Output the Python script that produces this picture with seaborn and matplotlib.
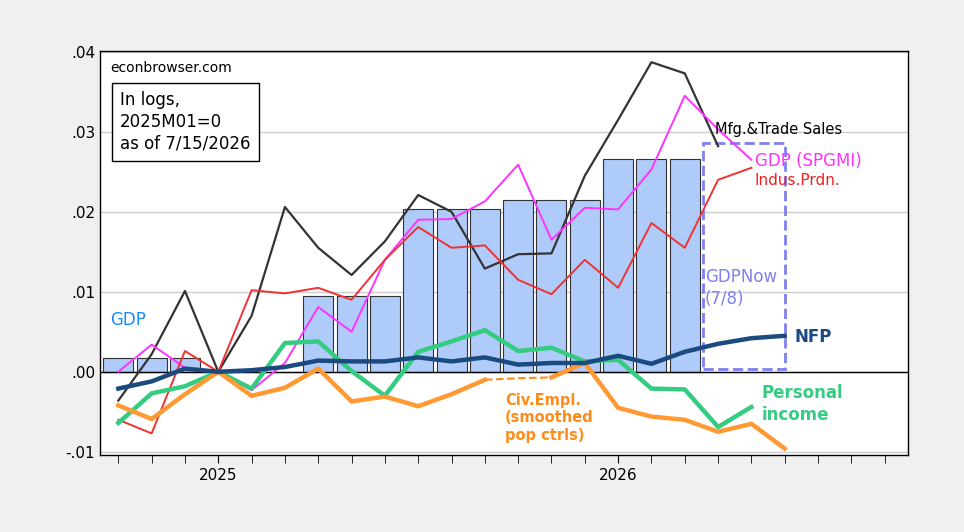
import matplotlib
matplotlib.use("Agg")
import matplotlib.pyplot as plt
import seaborn as sns
import numpy as np
import pandas as pd
from matplotlib.patches import Rectangle

# months from 2024M10, index 0..
months = pd.period_range("2024-10", "2026-06", freq="M")

gdp_bars = [0.00175, 0.00175, 0.00175, 0, 0, 0, 0.0095, 0.0095, 0.0095,
            0.0203, 0.0203, 0.0203, 0.0215, 0.0215, 0.0215, 0.0266, 0.0266, 0.0266]
gdpnow = 0.0286

mfg_sales = [-0.0036, 0.0022, 0.0101, 0.0, 0.0070, 0.0206, 0.0155, 0.0121, 0.0163,
             0.0221, 0.0200, 0.0129, 0.0147, 0.0148, 0.0245, 0.0315, 0.0387, 0.0373, 0.0282]
gdp_spgmi = [0.0, 0.0034, 0.0005, 0.0, -0.0023, 0.0011, 0.0081, 0.0050, 0.0140,
             0.0190, 0.0191, 0.0213, 0.0259, 0.0165, 0.0205, 0.0203, 0.0253, 0.0345, 0.0303, 0.0265]
indus_prdn = [-0.0060, -0.0077, 0.0026, 0.0, 0.0102, 0.0098, 0.0105, 0.0090, 0.0140,
              0.0181, 0.0155, 0.0158, 0.0115, 0.0097, 0.0140, 0.0105, 0.0186, 0.0155, 0.0240, 0.0255]
pers_income = [-0.0064, -0.0027, -0.0018, 0.0, -0.0021, 0.0036, 0.0038, 0.0001, -0.0030,
               0.0025, 0.0038, 0.0052, 0.0026, 0.0030, 0.0013, 0.0015, -0.0021, -0.0022, -0.0069, -0.0044]
nfp = [-0.0021, -0.0012, 0.0004, 0.0, 0.0002, 0.0006, 0.0014, 0.0013, 0.0013, 0.0018, 0.0013,
       0.0018, 0.0009, 0.0011, 0.0011, 0.0020, 0.0010, 0.0025, 0.0035, 0.0042, 0.0045]
civ_empl = [-0.0042, -0.0059, -0.0028, 0.0, -0.0030, -0.0020, 0.0004, -0.0037, -0.0031,
            -0.0043, -0.0028, -0.0010, np.nan, np.nan, 0.0011, -0.0045, -0.0056, -0.0060,
            -0.0075, -0.0065, -0.0096]
civ_gap = [-0.0010, -0.0008, -0.0007]  # Sep-Nov 2025, dashed

fig = plt.figure(figsize=(9.64, 5.32), dpi=100, facecolor="#f0f0f0")
ax = fig.add_axes([100/964, 1-455/532, 808/964, 404/532])
ax.set_facecolor("white")

idx = np.arange(len(months))
ax.bar(np.arange(len(gdp_bars)), gdp_bars, width=0.9, color="#aecbfa",
       edgecolor="#333333", linewidth=0.8, zorder=1)
ax.add_patch(Rectangle((17.55, 0.0004), 2.45, gdpnow - 0.0004, fill=False,
                       edgecolor="#8080f0", linestyle="--", linewidth=2, zorder=2))

sns.lineplot(x=np.arange(len(mfg_sales)), y=mfg_sales, ax=ax, color="#333333", lw=1.6, zorder=3)
sns.lineplot(x=np.arange(len(gdp_spgmi)), y=gdp_spgmi, ax=ax, color="#ff33ff", lw=1.4, zorder=3)
sns.lineplot(x=np.arange(len(indus_prdn)), y=indus_prdn, ax=ax, color="#ee3333", lw=1.4, zorder=3)
sns.lineplot(x=np.arange(len(pers_income)), y=pers_income, ax=ax, color="#33cc80", lw=3.2, zorder=3)
sns.lineplot(x=np.arange(len(nfp)), y=nfp, ax=ax, color="#1a4a80", lw=3.2, zorder=4)
ax.plot(np.arange(len(civ_empl)), civ_empl, color="#ff9933", lw=3.2, zorder=3)
ax.plot([11, 12, 13], civ_gap, color="#ff8c1a", lw=1.5, ls="--", zorder=3)
ax.plot([13, 14], [civ_gap[-1], civ_empl[14]], color="#ff9933", lw=3.2, zorder=3)

ax.axhline(0, color="black", lw=1, zorder=2)
ax.set_xlim(-0.55, 23.7)
ax.set_ylim(-0.0104, 0.0401)
ax.set_yticks([-0.01, 0.0, 0.01, 0.02, 0.03, 0.04])
ax.set_yticklabels(["-.01", ".00", ".01", ".02", ".03", ".04"], fontsize=11)
ax.set_xticks(np.arange(0, 24), minor=True)
ax.set_xticks([3, 15])
ax.set_xticklabels(["2025", "2026"], fontsize=11)
ax.tick_params(axis="x", which="both", length=6, direction="out")
ax.tick_params(axis="y", length=0)
ax.grid(axis="y", color="#cccccc", lw=1, zorder=0)
ax.set_axisbelow(True)
for s in ax.spines.values():
    s.set_linewidth(1)

ax.text(0.013, 0.975, "econbrowser.com", transform=ax.transAxes, fontsize=10, va="top")
ax.text(0.025, 0.90, "In logs,\n2025M01=0\nas of 7/15/2026", transform=ax.transAxes,
        fontsize=12, va="top", linespacing=1.25,
        bbox=dict(boxstyle="square,pad=0.5", fc="white", ec="black", lw=1))
ax.text(-0.25, 0.0058, "GDP", color="#1a8cff", fontsize=12)
ax.text(17.9, 0.0297, "Mfg.&Trade Sales", color="black", fontsize=10.5)
ax.text(19.1, 0.0257, "GDP (SPGMI)", color="#ff33ff", fontsize=12)
ax.text(19.1, 0.0233, "Indus.Prdn.", color="#ee2222", fontsize=11)
ax.text(17.6, 0.0085, "GDPNow\n(7/8)", color="#8080f0", fontsize=12, linespacing=1.3)
ax.text(20.3, 0.0037, "NFP", color="#1a4a80", fontsize=12, fontweight="bold")
ax.text(19.3, -0.0060, "Personal\nincome", color="#33cc80", fontsize=12,
        fontweight="bold", linespacing=1.3)
ax.text(11.6, -0.0085, "Civ.Empl.\n(smoothed\npop ctrls)", color="#ff8c1a", fontsize=10.5,
        fontweight="bold", linespacing=1.2)

fig.savefig("out.png", dpi=100, facecolor=fig.get_facecolor())
